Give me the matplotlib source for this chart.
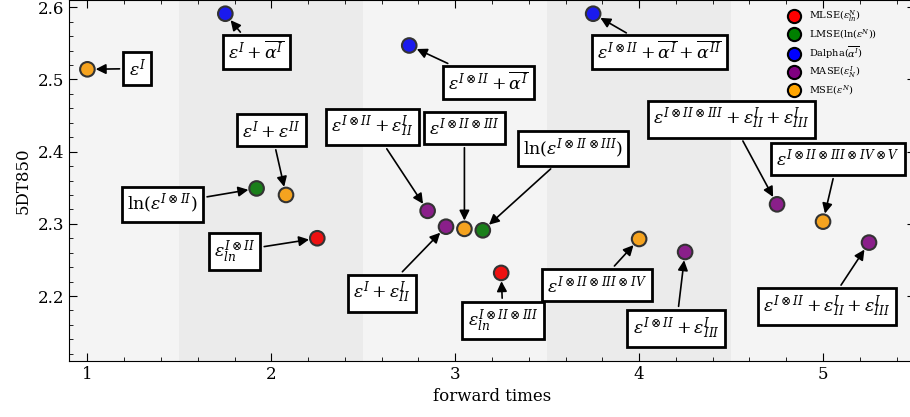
import matplotlib
matplotlib.use('Agg')
import matplotlib.pyplot as plt
from matplotlib.lines import Line2D

plt.rcParams['font.family'] = 'DejaVu Serif'
plt.rcParams['mathtext.fontset'] = 'dejavuserif'

# points: (forward time, 5DT850, colour)
xs = [1.0, 1.75, 1.92, 2.08, 2.25, 2.75, 2.85, 2.95, 3.05, 3.15, 3.25,
      3.75, 4.0, 4.25, 4.75, 5.0, 5.25]
ys = [2.514, 2.591, 2.349, 2.340, 2.280, 2.547, 2.318, 2.296, 2.293, 2.291, 2.232,
      2.591, 2.279, 2.261, 2.327, 2.303, 2.274]
cols = ['orange', 'blue', 'green', 'orange', 'red', 'blue', 'purple', 'purple',
        'orange', 'green', 'red', 'blue', 'orange', 'purple', 'purple', 'orange', 'purple']

labels = [r'$\varepsilon^{I}$',
          r'$\varepsilon^{I}+\overline{\alpha^{I}}$',
          r'$\ln(\varepsilon^{I\otimes II})$',
          r'$\varepsilon^{I}+\varepsilon^{II}$',
          r'$\varepsilon^{I\otimes II}_{ln}$',
          r'$\varepsilon^{I\otimes II}+\overline{\alpha^{I}}$',
          r'$\varepsilon^{I\otimes II}+\varepsilon^{I}_{II}$',
          r'$\varepsilon^{I}+\varepsilon^{I}_{II}$',
          r'$\varepsilon^{I\otimes II\otimes III}$',
          r'$\ln(\varepsilon^{I\otimes II\otimes III})$',
          r'$\varepsilon^{I\otimes II\otimes III}_{ln}$',
          r'$\varepsilon^{I\otimes II}+\overline{\alpha^{I}}+\overline{\alpha^{II}}$',
          r'$\varepsilon^{I\otimes II\otimes III\otimes IV}$',
          r'$\varepsilon^{I\otimes II}+\varepsilon^{I}_{III}$',
          r'$\varepsilon^{I\otimes II\otimes III}+\varepsilon^{I}_{II}+\varepsilon^{I}_{III}$',
          r'$\varepsilon^{I\otimes II\otimes III\otimes IV\otimes V}$',
          r'$\varepsilon^{I\otimes II}+\varepsilon^{I}_{II}+\varepsilon^{I}_{III}$']
# label box centres
tx = [1.27, 1.92, 1.41, 2.0, 1.80, 3.18, 2.55, 2.60, 3.05, 3.64, 3.26,
      4.11, 3.77, 4.20, 4.50, 5.08, 5.02]
ty = [2.515, 2.538, 2.327, 2.430, 2.262, 2.496, 2.434, 2.204, 2.433, 2.404, 2.166,
      2.538, 2.215, 2.155, 2.445, 2.390, 2.185]

colour_map = {'red': '#ee1111', 'green': '#1a7f1a', 'blue': '#1a1aee',
              'purple': '#8a1f8a', 'orange': '#f5a31f'}
legend_names = ['MLSE($\\varepsilon_{ln}^{N}$)', 'LMSE($\\ln(\\varepsilon^{N})$)',
                'Dalpha($\\overline{\\alpha^{I}}$)', 'MASE($\\varepsilon_{N}^{I}$)',
                'MSE($\\varepsilon^{N}$)']
legend_cols = ['red', 'green', 'blue', 'purple', 'orange']

fig = plt.figure(figsize=(9.1, 4.17), dpi=100)
ax = fig.add_axes([69/910, 1 - 361/417, 846/910, 361/417])

# alternating bands
for i, x0 in enumerate([0.5, 1.5, 2.5, 3.5, 4.5]):
    ax.axvspan(x0, x0 + 1, color='#f4f4f4' if i % 2 == 0 else '#ebebeb', zorder=0, lw=0)

ax.scatter(xs, ys, c=[colour_map[c] for c in cols], s=110, edgecolors='#333333',
           linewidths=1.5, zorder=3)

for x, y, lab, x2, y2 in zip(xs, ys, labels, tx, ty):
    ax.annotate(lab, xy=(x, y), xytext=(x2, y2), ha='center', va='center', fontsize=12.5,
                bbox=dict(boxstyle='square,pad=0.3', fc='white', ec='black', lw=2),
                arrowprops=dict(arrowstyle='-|>', color='black', lw=1.2,
                                mutation_scale=15, shrinkB=6),
                zorder=4)

handles = [Line2D([], [], marker='o', ls='', markersize=9.5, markerfacecolor=c,
                  markeredgecolor='black', markeredgewidth=1.5) for c in legend_cols]
ax.legend(handles, legend_names, loc='upper right', bbox_to_anchor=(0.966, 1.0),
          frameon=False, fontsize=7, handletextpad=0.6, labelspacing=0.36)

ax.set_xlim(0.9, 5.5)
ax.set_ylim(2.11, 2.61)
ax.set_xticks([1, 2, 3, 4, 5])
ax.set_yticks([2.2, 2.3, 2.4, 2.5, 2.6])
ax.minorticks_on()
ax.tick_params(which='both', direction='in', top=True, right=True, labelsize=12)
ax.tick_params(which='major', length=6)
ax.tick_params(which='minor', length=3)
ax.set_xlabel('forward times', fontsize=12)
ax.set_ylabel('5DT850', fontsize=12)

fig.savefig('out.png', dpi=100)
